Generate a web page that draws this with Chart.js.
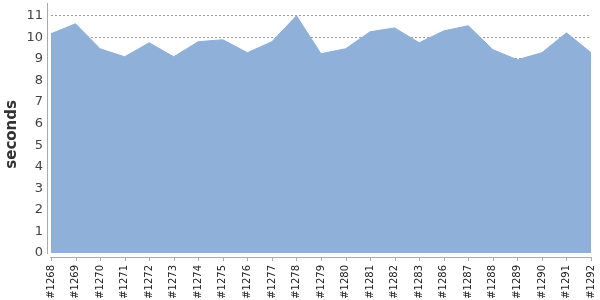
<!DOCTYPE html>
<html>
<head>
<meta charset="utf-8">
<script src="https://cdn.jsdelivr.net/npm/chart.js@4"></script>
<style>
  html, body { margin: 0; padding: 0; background: #fff; }
  #wrap { width: 600px; height: 300px; }
</style>
</head>
<body>
<div id="wrap"><canvas id="chart" width="600" height="300"></canvas></div>
<script>
// build labels / values
const builds = [
  '#1268', '#1269', '#1270', '#1271', '#1272', '#1273', '#1274', '#1275',
  '#1276', '#1277', '#1278', '#1279', '#1280', '#1281', '#1282', '#1283',
  '#1286', '#1287', '#1288', '#1289', '#1290', '#1291', '#1292'
];
const seconds = [
  10.17, 10.63, 9.47, 9.10, 9.75, 9.10, 9.80, 9.89,
  9.29, 9.80, 11.0, 9.24, 9.47, 10.26, 10.44, 9.75,
  10.30, 10.54, 9.43, 8.96, 9.29, 10.21, 9.29
];
const yTicks = [0, 1, 2, 3, 4, 5, 6, 7, 8, 9, 10, 11];

// axis lines sit a few px outside the plot, like the original
const axisLines = {
  id: 'axisLines',
  afterDraw(chart) {
    const ctx = chart.ctx;
    const a = chart.chartArea;
    const x = chart.scales.x;
    ctx.save();
    ctx.strokeStyle = '#aaa';
    ctx.lineWidth = 1;
    ctx.beginPath();
    ctx.moveTo(a.left - 3.5, 3);
    ctx.lineTo(a.left - 3.5, a.bottom + 1);
    ctx.moveTo(a.left - 1, a.bottom + 4.5);
    ctx.lineTo(a.right + 1, a.bottom + 4.5);
    builds.forEach(function(b, i) {
      const px = Math.round(x.getPixelForValue(i)) + 0.5;
      ctx.moveTo(px, a.bottom + 4.5);
      ctx.lineTo(px, a.bottom + 8);
    });
    ctx.stroke();
    ctx.restore();
  }
};

new Chart(document.getElementById('chart'), {
  type: 'line',
  data: {
    labels: builds,
    datasets: [{
      data: seconds,
      fill: 'origin',
      backgroundColor: 'rgb(142,176,217)',
      borderColor: 'rgb(142,176,217)',
      borderWidth: 1,
      pointRadius: 0,
      tension: 0
    }]
  },
  options: {
    responsive: false,
    animation: false,
    layout: { padding: { top: 10, right: 9, left: 3, bottom: 0 } },
    plugins: { legend: { display: false }, tooltip: { enabled: false } },
    scales: {
      x: {
        offset: false,
        grid: { display: false },
        border: { display: false },
        afterFit: function(scale) {
          scale.height = 47;
          scale.paddingLeft = 0;
          scale.paddingRight = 0;
        },
        ticks: {
          autoSkip: false,
          minRotation: 90,
          maxRotation: 90,
          padding: 4,
          color: '#222',
          font: { family: 'DejaVu Sans', size: 10 }
        }
      },
      y: {
        min: 0,
        max: 11,
        z: 1,
        afterBuildTicks: function(scale) {
          scale.ticks = yTicks.map(function(v) { return { value: v }; });
        },
        afterFit: function(scale) { scale.width = 48; },
        grid: {
          // no grid line on the zero row
          color: function(c) {
            return c.tick && c.tick.value === 0 ? 'rgba(0,0,0,0)' : 'rgba(90,90,90,0.6)';
          },
          drawTicks: false
        },
        border: { display: false, dash: [2, 2] },
        ticks: {
          padding: 8,
          color: '#444',
          font: { family: 'DejaVu Sans', size: 13 }
        },
        title: {
          display: true,
          text: 'seconds',
          color: '#333',
          padding: { top: 0, bottom: 1 },
          font: { family: 'DejaVu Sans', size: 15, weight: 'bold' }
        }
      }
    }
  },
  plugins: [axisLines]
});
</script>
</body>
</html>
